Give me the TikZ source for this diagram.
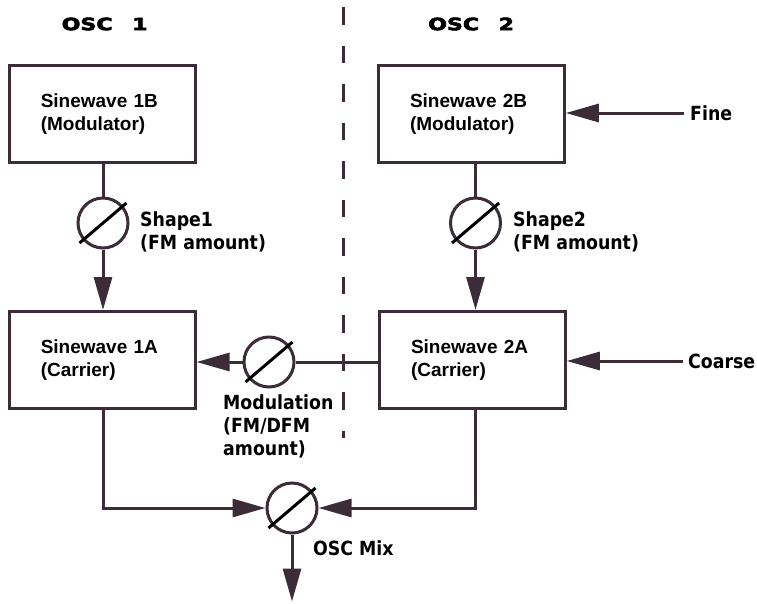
\documentclass[tikz,border=0pt]{standalone}
\usepackage{fontspec}
\usepackage{graphicx}
\usetikzlibrary{arrows.meta,calc}
\newfontfamily\boxfont{Liberation Sans}
\newfontfamily\lblfont{DejaVu Sans}[FakeStretch=0.89]
\newfontfamily\ttlfont{DejaVu Sans}[FakeBold=3]
\definecolor{ink}{RGB}{59,44,56}
\begin{document}
\begin{tikzpicture}[x=1pt,y=-1pt,
  box/.style={draw=ink, line width=3pt, minimum width=185.5pt, minimum height=97pt,
    text width=123pt, inner xsep=31pt, align=left,
    font=\boxfont\bfseries\fontsize{19}{23.5}\selectfont},
  knob/.style={circle, draw=ink, line width=3pt, minimum size=50pt, inner sep=0pt},
  lbl/.style={inner sep=0pt, align=left, anchor=west,
    font=\lblfont\bfseries\fontsize{19.5}{23}\selectfont},
  ttl/.style={inner sep=0pt, anchor=west,
    font=\ttlfont\bfseries\fontsize{17}{20}\selectfont},
  wire/.style={draw=ink, line width=3pt},
  arr/.style={wire, color=ink, -{Triangle[length=33pt,width=18pt]}},
  slash/.style={draw=black, line width=3pt},
  dashline/.style={draw=ink, line width=3pt, dash pattern=on 17.5pt off 21pt}
]
\useasboundingbox (0,0) rectangle (757,603);

% titles
\node[ttl] (t1) at (61.5,24) {\scalebox{1.3}[1]{OSC\hspace{15pt}1}};
\node[ttl] (t2) at (428,24) {\scalebox{1.3}[1]{OSC\hspace{15pt}2}};

% divider
\coordinate (dtop) at (343,7);
\coordinate (dbot) at (343,438);
\draw[dashline] (dtop) -- (dbot);

% boxes
\node[box] (b1B) at (102.25,114) {Sinewave 1B\\(Modulator)};
\node[box] (b1A) at (102.25,360) {Sinewave 1A\\(Carrier)};
\node[box] (b2B) at (471.5,114) {Sinewave 2B\\(Modulator)};
\node[box] (b2A) at (472.5,360) {Sinewave 2A\\(Carrier)};

% knobs
\node[knob] (k1) at (103,223) {};
\node[knob] (k2) at (475.5,223) {};
\node[knob] (kmod) at (269,362) {};
\node[knob] (kmix) at (292,508) {};
\foreach \k in {k1,k2,kmod,kmix}{
  \draw[slash] ($(\k)+(-23.5,20)$) -- ($(\k)+(23.5,-20)$);
}

% labels
\node[lbl] (l1) at (140,231.5) {Shape1\\(FM amount)};
\node[lbl] (l2) at (513,231.5) {Shape2\\(FM amount)};
\node[lbl] (lmod) at (223,426.5) {Modulation\\(FM/DFM\\amount)};
\node[lbl] (lmix) at (313,548) {OSC Mix};
\node[lbl] (fine) at (690,113) {Fine};
\node[lbl] (coarse) at (688,361) {Coarse};
\coordinate (out) at (292,601.5);

% connectors
\draw[wire] (b1B.south -| k1) -- (k1.north);
\draw[arr] (k1.south) -- (b1A.north -| k1);
\draw[wire] (b2B.south -| k2) -- (k2.north);
\draw[arr] (k2.south) -- (b2A.north -| k2);
\draw[wire] (b2A.west |- kmod) -- (kmod.east);
\draw[arr] (kmod.west) -- (b1A.east |- kmod);
\draw[arr] (b1A.south -| k1) |- (kmix.west);
\draw[arr] (b2A.south -| k2) |- (kmix.east);
\draw[arr] (kmix.south) -- (out);
\draw[arr] ([xshift=-6pt]fine.west) -- (fine.west -| b2B.east);
\draw[arr] ([xshift=-5pt]coarse.west) -- (coarse.west -| b2A.east);
\end{tikzpicture}
\end{document}
